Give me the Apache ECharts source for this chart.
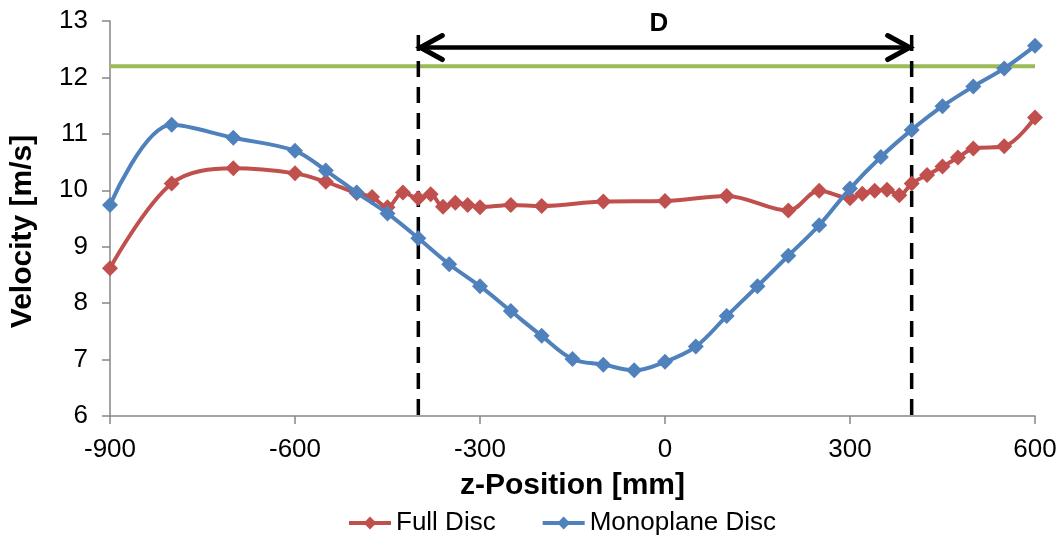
<!DOCTYPE html>
<html>
<head>
<meta charset="utf-8">
<script src="https://cdn.jsdelivr.net/npm/echarts@6/dist/echarts.min.js"></script>
<style>
  html, body { margin: 0; padding: 0; background: #fff; }
  #chart { width: 1061px; height: 535px; }
</style>
</head>
<body>
<div id="chart"></div>
<script>
// z-positions [mm] and measured velocities [m/s]
const fullDiscZ = [-900, -800, -700, -600, -550, -500, -475, -450, -425, -400, -380, -360, -340, -320, -300, -250, -200, -100, 0, 100, 200, 250, 300, 320, 340, 360, 380, 400, 425, 450, 475, 500, 550, 600];
const fullDiscV = [8.62, 10.12, 10.39, 10.30, 10.15, 9.95, 9.88, 9.70, 9.96, 9.86, 9.93, 9.71, 9.78, 9.74, 9.70, 9.74, 9.72, 9.80, 9.81, 9.90, 9.64, 9.99, 9.86, 9.94, 9.99, 10.01, 9.91, 10.12, 10.27, 10.42, 10.58, 10.74, 10.78, 11.29];

const monoZ = [-900, -800, -700, -600, -550, -500, -450, -400, -350, -300, -250, -200, -150, -100, -50, 0, 50, 100, 150, 200, 250, 300, 350, 400, 450, 500, 550, 600];
const monoV = [9.74, 11.16, 10.93, 10.70, 10.35, 9.96, 9.59, 9.15, 8.69, 8.30, 7.86, 7.42, 7.01, 6.91, 6.81, 6.96, 7.23, 7.77, 8.30, 8.84, 9.38, 10.03, 10.59, 11.07, 11.49, 11.84, 12.16, 12.56];

// reference free-stream velocity
const refVelocity = 12.2;
// disc diameter span D
const discEdges = [-400, 400];
const dimLineY = 12.53;
const dashTop = 12.75;
const dimLabel = 'D';
const dimLabelX = -10;

const xTicks = [-900, -600, -300, 0, 300, 600];
const yMin = 6, yMax = 13;

const zip = (a, b) => a.map((v, i) => [v, b[i]]);

const font = 'Liberation Sans, Arial, sans-serif';

const chart = echarts.init(document.getElementById('chart'), null, { renderer: 'canvas' });

chart.setOption({
  animation: false,
  grid: { left: 108, right: 26, top: 21, bottom: 119, containLabel: false },
  xAxis: {
    type: 'value',
    min: xTicks[0], max: xTicks[xTicks.length - 1], interval: 300,
    name: 'z-Position [mm]', nameLocation: 'middle', nameGap: 55,
    nameTextStyle: { fontFamily: font, fontSize: 30, fontWeight: 'bold', color: '#000' },
    axisLine: { show: true, onZero: false, lineStyle: { color: '#868686', width: 1.5 } },
    axisTick: { show: true, length: 8, lineStyle: { color: '#868686', width: 1.5 } },
    axisLabel: { margin: 21, fontSize: 26, color: '#000', fontFamily: font },
    splitLine: { show: false }
  },
  yAxis: {
    type: 'value',
    min: yMin, max: yMax, interval: 1,
    name: 'Velocity [m/s]', nameLocation: 'middle', nameGap: 72, nameRotate: 90,
    nameTextStyle: { fontFamily: font, fontSize: 30, fontWeight: 'bold', color: '#000', padding: [0, 26, 0, 0] },
    axisLine: { show: true, onZero: false, lineStyle: { color: '#868686', width: 1.5 } },
    axisTick: { show: true, length: 8, lineStyle: { color: '#868686', width: 1.5 } },
    axisLabel: { margin: 22, fontSize: 26, color: '#000', fontFamily: font },
    splitLine: { show: false }
  },
  legend: {
    top: 505, left: 342,
    itemWidth: 42, itemHeight: 16, itemGap: 45,
    lineStyle: { width: 4 },
    textStyle: { fontFamily: font, fontSize: 26, color: '#000' },
    data: ['Full Disc', 'Monoplane Disc']
  },
  series: [
    {
      name: 'Reference',
      type: 'line',
      data: [[xTicks[0], refVelocity], [xTicks[xTicks.length - 1], refVelocity]],
      symbol: 'none',
      lineStyle: { color: '#9BBB59', width: 4 },
      z: 1
    },
    {
      name: 'Edges',
      type: 'custom',
      data: discEdges.map(x => [x, yMin, dashTop]),
      renderItem: (params, api) => {
        const p0 = api.coord([api.value(0), api.value(1)]);
        const p1 = api.coord([api.value(0), api.value(2)]);
        return {
          type: 'line',
          shape: { x1: p0[0], y1: p1[1], x2: p0[0], y2: p0[1] },
          style: { stroke: '#000', lineWidth: 3.5, lineDash: [16, 10] }
        };
      },
      z: 3
    },
    {
      name: 'Dimension',
      type: 'custom',
      data: [[discEdges[0], discEdges[1], dimLineY, dimLabelX]],
      renderItem: (params, api) => {
        const a = api.coord([api.value(0), api.value(2)]);
        const b = api.coord([api.value(1), api.value(2)]);
        const t = api.coord([api.value(3), api.value(2)]);
        const h = 12, w = 24;
        return {
          type: 'group',
          children: [
            { type: 'line', shape: { x1: a[0] + 2, y1: a[1], x2: b[0] - 2, y2: b[1] },
              style: { stroke: '#000', lineWidth: 4.5 } },
            { type: 'polyline', shape: { points: [[a[0] + w, a[1] - h], [a[0] + 2, a[1]], [a[0] + w, a[1] + h]] },
              style: { stroke: '#000', lineWidth: 5, fill: null, lineCap: 'round', lineJoin: 'miter' } },
            { type: 'polyline', shape: { points: [[b[0] - w, b[1] - h], [b[0] - 2, b[1]], [b[0] - w, b[1] + h]] },
              style: { stroke: '#000', lineWidth: 5, fill: null, lineCap: 'round', lineJoin: 'miter' } },
            { type: 'text', x: t[0], y: t[1] - 24,
              style: { text: dimLabel, fontFamily: font, fontSize: 26, fontWeight: 'bold', fill: '#000', align: 'center', verticalAlign: 'middle' } }
          ]
        };
      },
      z: 4
    },
    {
      name: 'Full Disc',
      type: 'line',
      data: zip(fullDiscZ, fullDiscV),
      smooth: 0.35,
      symbol: 'diamond', symbolSize: 16,
      itemStyle: { color: '#C0504D' },
      lineStyle: { color: '#C0504D', width: 4 },
      z: 5
    },
    {
      name: 'Monoplane Disc',
      type: 'line',
      data: zip(monoZ, monoV),
      smooth: 0.35,
      symbol: 'diamond', symbolSize: 16,
      itemStyle: { color: '#4F81BD' },
      lineStyle: { color: '#4F81BD', width: 4 },
      z: 6
    }
  ]
});
</script>
</body>
</html>
